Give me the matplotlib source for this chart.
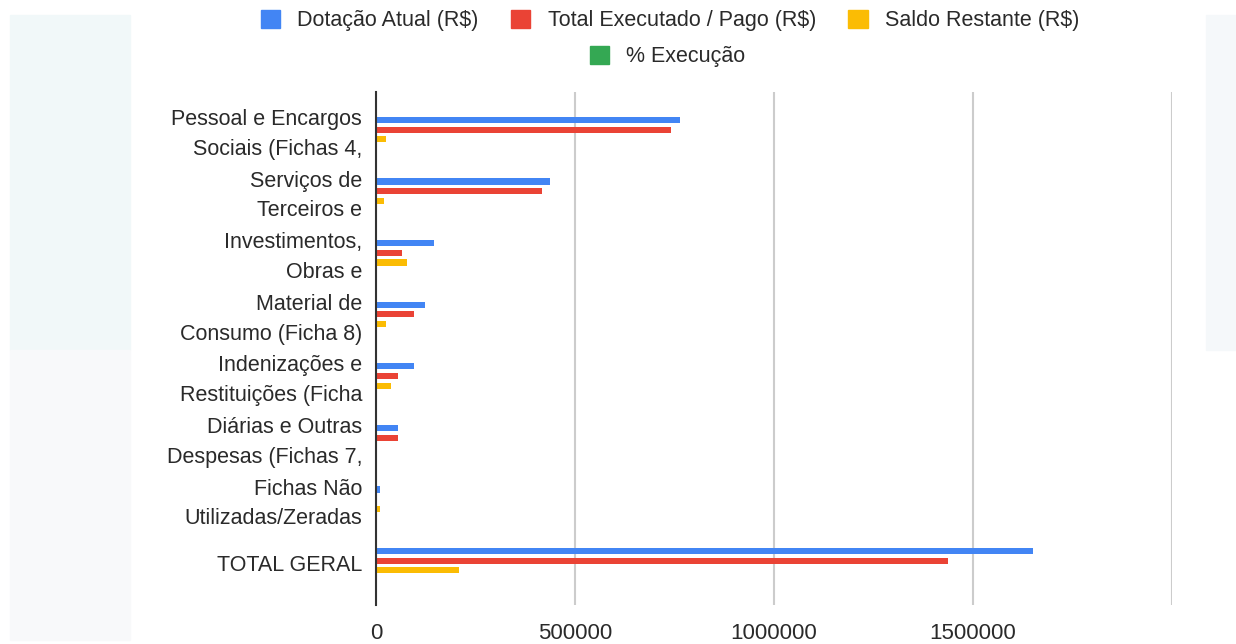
import matplotlib.pyplot as plt
import numpy as np
from matplotlib.patches import Patch, Rectangle

plt.rcParams["font.family"] = ["Liberation Sans", "DejaVu Sans"]

# categories (labels are cut off in the original chart)
categories = ["Pessoal e Encargos\nSociais (Fichas 4,",
              "Serviços de\nTerceiros e",
              "Investimentos,\nObras e",
              "Material de\nConsumo (Ficha 8)",
              "Indenizações e\nRestituições (Ficha",
              "Diárias e Outras\nDespesas (Fichas 7,",
              "Fichas Não\nUtilizadas/Zeradas",
              "TOTAL GERAL"]

dotacao = [765000, 438000, 146000, 123000, 96000, 56000, 10000, 1650000]
executado = [741000, 416000, 65000, 96000, 56000, 56000, 0, 1437000]
saldo = [24000, 20000, 79000, 24000, 38000, 0, 10000, 209000]
pct_execucao = [97, 95, 45, 78, 58, 100, 0, 87]

series_names = ["Dotação Atual (R$)", "Total Executado / Pago (R$)", "Saldo Restante (R$)", "% Execução"]
series_vals = [dotacao, executado, saldo, pct_execucao]
colors = ["#4285F4", "#EA4335", "#FBBC04", "#34A853"]
txt = "#2a2a2a"

fig = plt.figure(figsize=(12.36, 6.44), dpi=100)

# faint blurred-screenshot background at the edges
fig.patches.append(Rectangle((10 / 1236, 1 - 350 / 644), 120 / 1236, 335 / 644,
                             transform=fig.transFigure, color="#f1f8f9", zorder=-10))
fig.patches.append(Rectangle((10 / 1236, 1 - 640 / 644), 120 / 1236, 290 / 644,
                             transform=fig.transFigure, color="#f8f9fa", zorder=-10))
fig.patches.append(Rectangle((1206 / 1236, 1 - 350 / 644), 30 / 1236, 335 / 644,
                             transform=fig.transFigure, color="#f5f8fa", zorder=-10))

ax = fig.add_axes([376 / 1236, 1 - 605 / 644, (1172 - 376) / 1236, (605 - 92) / 644])

y = np.arange(len(categories))
step = 0.157
for i, (name, vals, c) in enumerate(zip(series_names, series_vals, colors)):
    ax.barh(y + (i - 1.5) * step, vals, height=0.1, color=c, label=name, zorder=3)

ax.set_xlim(0, 2000000)
ax.set_ylim(7.64, -0.69)
ax.set_xticks([0, 500000, 1000000, 1500000, 2000000])
ax.set_xticklabels(["0", "500000", "1000000", "1500000", ""])
ax.set_yticks(y)
ax.set_yticklabels(categories, fontsize=15.5, color=txt, linespacing=1.55, va="center")
ax.tick_params(axis="both", length=0, colors=txt)
ax.tick_params(axis="x", labelsize=16, pad=13)
ax.tick_params(axis="y", pad=10)
ax.grid(axis="x", color="#cccccc", linewidth=1.5, zorder=0)
for s in ["top", "right", "bottom"]:
    ax.spines[s].set_visible(False)
ax.spines["left"].set_color("#333333")
ax.spines["left"].set_linewidth(1.5)
ax.spines["left"].set_zorder(4)

handles = [Patch(facecolor=c, edgecolor=c) for c in colors]
fig.legend(handles[:3], series_names[:3], loc="center", bbox_to_anchor=(0.542, 0.968),
           ncol=3, frameon=False, fontsize=15.5, handlelength=0.9, handleheight=0.9,
           handletextpad=0.8, columnspacing=1.5, labelcolor=txt)
fig.legend(handles[3:], series_names[3:], loc="center", bbox_to_anchor=(0.54, 0.912),
           ncol=1, frameon=False, fontsize=15.5, handlelength=0.9, handleheight=0.9,
           handletextpad=0.8, labelcolor=txt)

plt.savefig("out.png", dpi=100)
